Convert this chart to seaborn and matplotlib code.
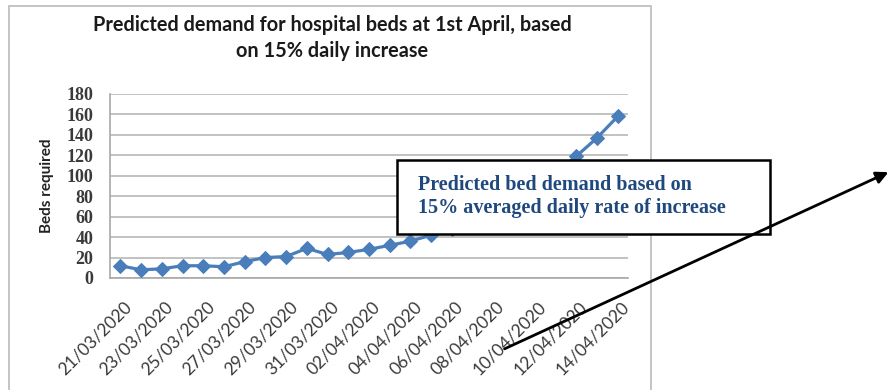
import matplotlib
matplotlib.use("Agg")
import matplotlib.pyplot as plt
from matplotlib.patches import Rectangle, FancyArrowPatch
import matplotlib.transforms as mtransforms
import pandas as pd
import seaborn as sns

# Daily dates and predicted beds required
dates = [
    "21/03/2020", "22/03/2020", "23/03/2020", "24/03/2020", "25/03/2020",
    "26/03/2020", "27/03/2020", "28/03/2020", "29/03/2020", "30/03/2020",
    "31/03/2020", "01/04/2020", "02/04/2020", "03/04/2020", "04/04/2020",
    "05/04/2020", "06/04/2020", "07/04/2020", "08/04/2020", "09/04/2020",
    "10/04/2020", "11/04/2020", "12/04/2020", "13/04/2020", "14/04/2020",
]
beds = [12, 8, 9, 12, 12, 11, 16, 20, 21, 29, 23, 25, 28, 32, 36,
        42, 48, 56, 65, 76, 88, 103, 119, 137, 158]
y_ticks = [0, 20, 40, 60, 80, 100, 120, 140, 160, 180]

title = "Predicted demand for hospital beds at 1st April, based\non 15% daily increase"
y_label = "Beds required"
note = "Predicted bed demand based on\n15% averaged daily rate of increase"

df = pd.DataFrame({"date": dates, "beds": beds})

sns.set_theme(style="white")
plt.rcParams["font.family"] = ["Lato", "DejaVu Sans"]

W, H = 892, 390
fig = plt.figure(figsize=(W / 100, H / 100), dpi=100)
fig.patch.set_facecolor("white")

# chart frame
fig.patches.append(Rectangle((9 / W, -0.1), (651 - 9) / W, (390 - 6) / H + 0.1,
                             transform=fig.transFigure, fill=False,
                             edgecolor="#c4c4c4", linewidth=1.4, zorder=0))

ax = fig.add_axes([110 / W, (H - 278) / H, (628 - 110) / W, (278 - 94) / H])
ax.set_facecolor("white")

sns.lineplot(data=df, x="date", y="beds", sort=False, ax=ax,
             color="#4a7ebb", linewidth=2.3, marker="D", markersize=7,
             markeredgecolor="#4a7ebb", zorder=3)

ax.set_xlim(-0.5, len(dates) - 0.5)
ax.set_ylim(0, 180)
ax.set_yticks(y_ticks)
ax.set_yticklabels([str(v) for v in y_ticks], family=["Liberation Serif"],
                   fontweight="bold", fontsize=13, color="#3a3a3a")
ax.yaxis.grid(True, color="#bdbdbd", linewidth=1.3)
ax.xaxis.grid(False)
ax.tick_params(axis="y", length=0, pad=12)
ax.tick_params(axis="x", length=0, pad=15)

pos = list(range(0, len(dates), 2))
ax.set_xticks(pos)
ax.set_xticklabels([dates[i] for i in pos], rotation=45, ha="right", va="top",
                   rotation_mode="anchor", fontsize=12.5, color="#3a3a3a")
offset = mtransforms.ScaledTranslation(3 / 100, 0, fig.dpi_scale_trans)
for lbl in ax.get_xticklabels():
    lbl.set_transform(lbl.get_transform() + offset)

for side in ["top", "right"]:
    ax.spines[side].set_visible(False)
ax.spines["left"].set_color("#a8a8a8")
ax.spines["bottom"].set_color("#a8a8a8")
ax.spines["left"].set_linewidth(1.2)
ax.spines["bottom"].set_linewidth(1.2)

ax.set_xlabel("")
ax.set_ylabel(y_label, fontsize=11, fontweight="bold", color="#222222", labelpad=9)

fig.text(332 / W, 1 - 38 / H, title, ha="center", va="center", fontsize=14.3,
         fontweight="bold", color="#1a1a1a", linespacing=1.4)

# annotation box with note
fig.patches.append(Rectangle((397 / W, (H - 234) / H), (770 - 397) / W, 74 / H,
                             transform=fig.transFigure, facecolor="white",
                             edgecolor="black", linewidth=1.8, zorder=5))
fig.text(418 / W, 1 - 196.5 / H, note, ha="left", va="center", fontsize=14.5,
         family=["Liberation Serif"], fontweight="bold", color="#1f497d",
         linespacing=1.25, zorder=6)

# pointer arrow
fig.add_artist(FancyArrowPatch(
    (502 / W, (H - 350) / H), (891 / W, (H - 171) / H),
    transform=fig.transFigure, arrowstyle="-|>", mutation_scale=18,
    color="black", linewidth=2, zorder=7))

fig.savefig("out.png", dpi=100, facecolor="white")
